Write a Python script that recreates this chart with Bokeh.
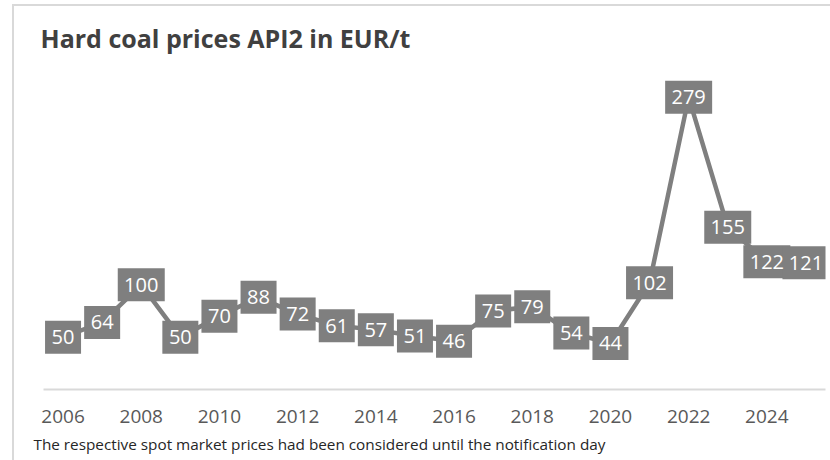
from bokeh.plotting import figure
from bokeh.models import ColumnDataSource, Title, Range1d, FixedTicker
from bokeh.core.properties import value
from bokeh.embed import file_html
from bokeh.resources import INLINE

years = [2006, 2007, 2008, 2009, 2010, 2011, 2012, 2013, 2014, 2015,
         2016, 2017, 2018, 2019, 2020, 2021, 2022, 2023, 2024, 2025]
prices = [50, 64, 100, 50, 70, 88, 72, 61, 57, 51,
          46, 75, 79, 54, 44, 102, 279, 155, 122, 121]
tick_years = [2006, 2008, 2010, 2012, 2014, 2016, 2018, 2020, 2022, 2024]
title_text = "Hard coal prices API2 in EUR/t"
note_text = "The respective spot market prices had been considered until the notification day"

FONT = "Open Sans"
GREY = "#7f7f7f"
FRAME = "#d9d9d9"

labels = [str(v) for v in prices]
box_w = [14 + 11 * len(s) for s in labels]
src = ColumnDataSource(dict(x=years, y=prices, lab=labels, w=box_w))

p = figure(width=830, height=460, output_backend="svg", toolbar_location=None,
           x_range=Range1d(2005.5, 2025.5), y_range=Range1d(0, 301.8),
           min_border_left=43, min_border_right=5, min_border_top=73, min_border_bottom=71,
           background_fill_color=None, border_fill_color=None)
p.styles = {
    "background-color": "white",
    "background-image": f"linear-gradient({FRAME},{FRAME}), linear-gradient({FRAME},{FRAME})",
    "background-position": "12px 4px, 12px 4px",
    "background-size": "2px 460px, 830px 2px",
    "background-repeat": "no-repeat",
}

p.line("x", "y", source=src, line_color=GREY, line_width=4.5)
p.rect("x", "y", width="w", height=33, width_units="screen", height_units="screen",
       source=src, fill_color=GREY, line_color=None)
p.text("x", "y", text="lab", source=src, text_color="white", text_align="center",
       text_baseline="middle", text_font=value(FONT), text_font_size="20px")

p.yaxis.visible = False
p.xgrid.visible = False
p.ygrid.visible = False
p.outline_line_color = None
ax = p.xaxis[0]
ax.ticker = FixedTicker(ticks=tick_years)
ax.axis_line_color = FRAME
ax.axis_line_width = 2
ax.major_tick_line_color = None
ax.minor_tick_line_color = None
ax.major_label_text_font = FONT
ax.major_label_text_font_size = "19px"
ax.major_label_text_color = "#595959"
ax.major_label_standoff = 14

p.add_layout(Title(text=title_text, align="left", offset=-3, standoff=37,
                   text_font=FONT, text_font_size="25px", text_font_style="bold",
                   text_color="#404040"), "above")
p.add_layout(Title(text=note_text, align="left", offset=-10, standoff=12,
                   text_font=FONT, text_font_size="15.3px", text_font_style="normal",
                   text_color="#262626"), "below")

open("out.html", "w").write(file_html(p, INLINE))
